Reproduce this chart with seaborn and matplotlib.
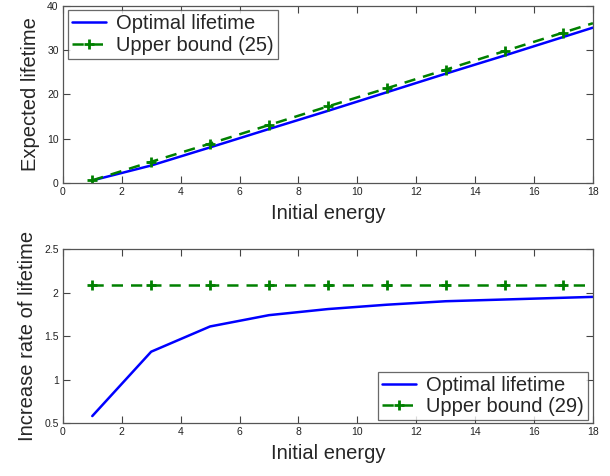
import matplotlib
matplotlib.use("Agg")
import matplotlib.pyplot as plt
import seaborn as sns
import pandas as pd

# Data
energy = [1, 3, 5, 7, 9, 11, 13, 15, 17, 18]
lifetime_opt = [0.58, 3.96, 8.05, 12.2, 16.3, 20.5, 24.7, 28.8, 33.0, 35.1]
lifetime_ub = [0.6, 4.8, 8.9, 13.1, 17.3, 21.4, 25.6, 29.8, 34.0, 36.1]
rate_opt = [0.58, 1.32, 1.61, 1.74, 1.81, 1.86, 1.90, 1.92, 1.94, 1.95]
rate_ub = [2.09, 2.09, 2.09, 2.09, 2.09, 2.09, 2.09, 2.09, 2.09, 2.09]

xticks = [0, 2, 4, 6, 8, 10, 12, 14, 16, 18]
yticks_top = [0, 10, 20, 30, 40]
yticks_bot = [0.5, 1, 1.5, 2, 2.5]
yticklabels_bot = ["0.5", "1", "1.5", "2", "2.5"]

sns.set_style("ticks", {"xtick.direction": "in", "ytick.direction": "in",
                        "axes.edgecolor": "#444444"})
plt.rcParams["font.family"] = ["Liberation Sans", "DejaVu Sans"]

BLUE = "#0000ff"
GREEN = "#008000"

fig = plt.figure(figsize=(6.10, 4.76), dpi=100)
ax1 = fig.add_axes([0.103, 0.6155, 0.869, 0.372])
ax2 = fig.add_axes([0.103, 0.1113, 0.869, 0.3655])

df_top = pd.DataFrame({"E": energy, "opt": lifetime_opt, "ub": lifetime_ub})
df_bot = pd.DataFrame({"E": energy, "opt": rate_opt, "ub": rate_ub})

mark_idx = list(range(len(energy) - 1))

def draw(ax, df, ub_label, ylim, yticks, yticklabels, ylabel, legend_loc, legend_bbox):
    sns.lineplot(data=df, x="E", y="opt", ax=ax, color=BLUE, linewidth=1.8,
                 label="Optimal lifetime")
    sns.lineplot(data=df, x="E", y="ub", ax=ax, color=GREEN, linewidth=1.8,
                 linestyle=(0, (4.5, 3.2)), marker="+", markersize=7,
                 markeredgewidth=2, markeredgecolor=GREEN, markevery=mark_idx,
                 label=ub_label)
    ax.set_xlim(0, 18)
    ax.set_ylim(*ylim)
    ax.set_xticks(xticks)
    ax.set_xticklabels([str(t) for t in xticks])
    ax.set_yticks(yticks)
    ax.set_yticklabels(yticklabels)
    ax.tick_params(axis="both", which="both", direction="in", length=5,
                   width=0.8, labelsize=7.5, colors="#444444",
                   labelcolor="#222222", top=True, right=True, pad=3)
    for s in ax.spines.values():
        s.set_visible(True)
        s.set_linewidth(0.9)
        s.set_color("#555555")
    ax.set_xlabel("Initial energy", fontsize=14.5, labelpad=5)
    ax.set_ylabel(ylabel, fontsize=14.5, labelpad=5)
    leg = ax.legend(loc=legend_loc, bbox_to_anchor=legend_bbox, fontsize=14.5,
                    frameon=True, fancybox=False, handlelength=1.7,
                    borderpad=0.2, labelspacing=0.12, handletextpad=0.5,
                    borderaxespad=0.0, numpoints=1)
    for h in leg.legend_handles:
        if hasattr(h, "get_marker") and h.get_marker() not in (None, "None", ""):
            n = len(h.get_xdata())
            h.set_markevery([n // 2])
    leg.get_frame().set_edgecolor("#444444")
    leg.get_frame().set_linewidth(0.9)

draw(ax1, df_top, "Upper bound (25)", (0, 40), yticks_top,
     [str(t) for t in yticks_top], "Expected lifetime", "upper left", (0.01, 0.975))
draw(ax2, df_bot, "Upper bound (29)", (0.5, 2.5), yticks_bot, yticklabels_bot,
     "Increase rate of lifetime", "lower right", (0.99, 0.017))

fig.savefig("out.png", dpi=100)
